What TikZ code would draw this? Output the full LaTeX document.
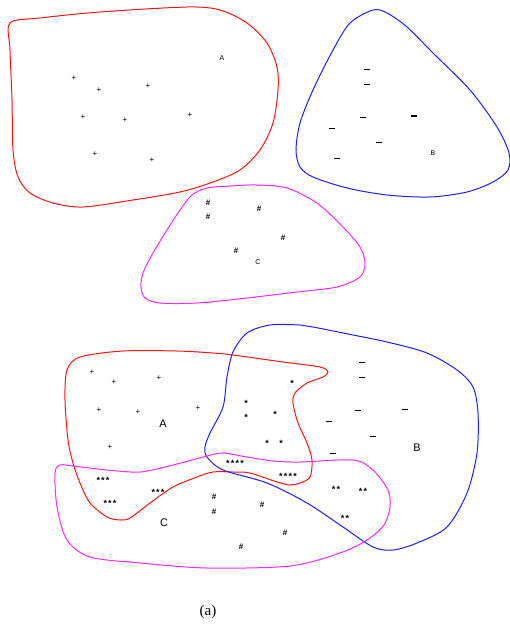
\documentclass[tikz,border=0pt]{standalone}
\usepackage{fontspec}
\setmainfont{Liberation Serif}
\setsansfont{Liberation Sans}
\newcommand\mns{\rule{5.5pt}{0.9pt}}
\newcommand\mnsb{\rule{6pt}{1.6pt}}
\tikzset{
  setA/.style={draw={rgb,255:red,255;green,20;blue,20}, line width=1pt},
  setB/.style={draw={rgb,255:red,30;green,30;blue,255}, line width=1pt},
  setC/.style={draw={rgb,255:red,255;green,40;blue,255}, line width=1pt},
  sym/.style={inner sep=0pt, font=\sffamily\fontsize{8}{8}\selectfont},
  mn/.style={inner sep=0pt},
  ast/.style={inner sep=0pt, yshift=-2pt, font=\sffamily\bfseries\fontsize{9}{9}\selectfont},
  hsh/.style={inner sep=0pt, font=\sffamily\bfseries\fontsize{8}{8}\selectfont},
  lblS/.style={inner sep=0pt, font=\sffamily\fontsize{7}{7}\selectfont},
  lblL/.style={inner sep=0pt, font=\sffamily\fontsize{11}{11}\selectfont},
}
\newcommand\sk{\kern1.2pt}
\begin{document}
\begin{tikzpicture}[x=1pt,y=-1pt]
\useasboundingbox (0,0) rectangle (510,628);
% ---------- top A ----------
\draw[setA] plot[smooth cycle, tension=0.5] coordinates {
 (10,23) (40,18) (100,12) (187,7) (220,10) (247,23) (267,43) (277,67) (278,90)
 (273,123) (260,150) (240,170) (213,182) (180,192) (133,200) (83,207) (53,203)
 (30,193) (18,177) (13,150) (12,100) (10,50)};
\foreach \p/\q [count=\i] in {74/78,99/90,148/86,83/117,125/120,190/115,95/154,152/160}
  \node[sym] (tp\i) at (\p,\q) {+};
\node[lblS] (tA) at (222,58) {A};
% ---------- top B ----------
\draw[setB] plot[smooth cycle, tension=0.5] coordinates {
 (373,10) (350,23) (333,50) (313,90) (300,123) (296,150) (300,167) (313,177)
 (347,188) (387,195) (430,197) (467,192) (493,182) (508,170) (509,153) (497,127)
 (470,90) (433,53) (407,27) (387,13)};
\foreach \p/\q [count=\i] in {367/69,367/84,363/117,332/128,379/142,337/158}
  \node[mn] (tm\i) at (\p,\q) {\mns};
\node[mn] (tm7) at (414,116) {\mnsb};
\node[lblS] (tB) at (433,153) {B};
% ---------- top C ----------
\draw[setC] plot[smooth cycle, tension=0.5] coordinates {
 (230,186) (207,188) (192,195) (180,210) (167,230) (153,253) (143,273) (141,287)
 (145,298) (160,303) (197,303) (247,298) (297,292) (337,287) (360,277) (365,263)
 (360,247) (343,227) (317,203) (287,188) (257,185)};
\foreach \p/\q [count=\i] in {208/203,208/217,259/209,283/238,236/251}
  \node[hsh] (th\i) at (\p,\q) {\#};
\node[lblS] (tC) at (258,262) {C};
% ---------- bottom A ----------
\draw[setA] plot[smooth cycle, tension=0.5] coordinates {
 (67,370) (80,357) (123,351) (177,351) (213,353) (233,355) (283,362) (320,367)
 (328,372) (323,377) (307,383) (295,393) (293,403) (298,423) (307,443) (312,460)
 (310,477) (300,483) (290,485) (277,482) (250,473) (233,472) (213,472) (197,477)
 (173,487) (150,503) (130,518) (120,520) (107,517) (90,503) (80,483) (73,463)
 (68,440) (65,400)};
% ---------- bottom B ----------
\draw[setB] plot[smooth cycle, tension=0.5] coordinates {
 (270,325) (300,325) (313,327) (343,333) (387,342) (427,353) (457,370) (473,387)
 (478,413) (477,453) (467,493) (447,527) (417,543) (393,550) (373,547) (343,527)
 (307,503) (267,483) (223,470) (207,457) (205,447) (210,433) (223,407) (227,377)
 (233,352) (247,333)};
% ---------- bottom C ----------
\draw[setC] plot[smooth cycle, tension=0.5] coordinates {
 (60,465) (73,466) (107,470) (140,472) (173,465) (207,456) (223,453) (247,457)
 (273,461) (300,462) (353,460) (373,470) (388,490) (390,507) (384,525) (367,540)
 (340,553) (290,566) (207,568) (140,563) (90,557) (67,540) (57,507) (55,473)};
% symbols bottom
\foreach \p/\q [count=\i] in {92/372,114/382,159/378,99/410,138/412,198/408,110/447}
  \node[sym] (bp\i) at (\p,\q) {+};
\node[lblL] (bA) at (163,424) {A};
\foreach \p/\q [count=\i] in {292/381,246/401,246/415,275/412,267/441,281/441}
  \node[ast] (bs\i) at (\p,\q) {*};
\foreach \p/\q [count=\i] in {362/362,362/377,358/410,405/409,329/421,373/436,333/453}
  \node[mn] (bm\i) at (\p,\q) {\mns};
\node[lblL] (bB) at (417,448) {B};
\node[ast] (s4a) at (235,461) {*\sk*\sk*\sk*};
\node[ast] (s4b) at (288,474) {*\sk*\sk*\sk*};
\node[ast] (s2a) at (336,487) {*\sk*};
\node[ast] (s2b) at (363,489) {*\sk*};
\node[ast] (s2c) at (345,516) {*\sk*};
\node[ast] (s3a) at (103,478) {*\sk*\sk*};
\node[ast] (s3b) at (158,490) {*\sk*\sk*};
\node[ast] (s3c) at (110,501) {*\sk*\sk*};
\foreach \p/\q [count=\i] in {214/497,214/512,262/505,285/533,241/547}
  \node[hsh] (bh\i) at (\p,\q) {\#};
\node[lblL] (bC) at (164,523) {C};
% caption
\node[inner sep=0pt, font=\fontsize{15}{15}\selectfont] (cap) at (208,612) {(a)};
\end{tikzpicture}
\end{document}
